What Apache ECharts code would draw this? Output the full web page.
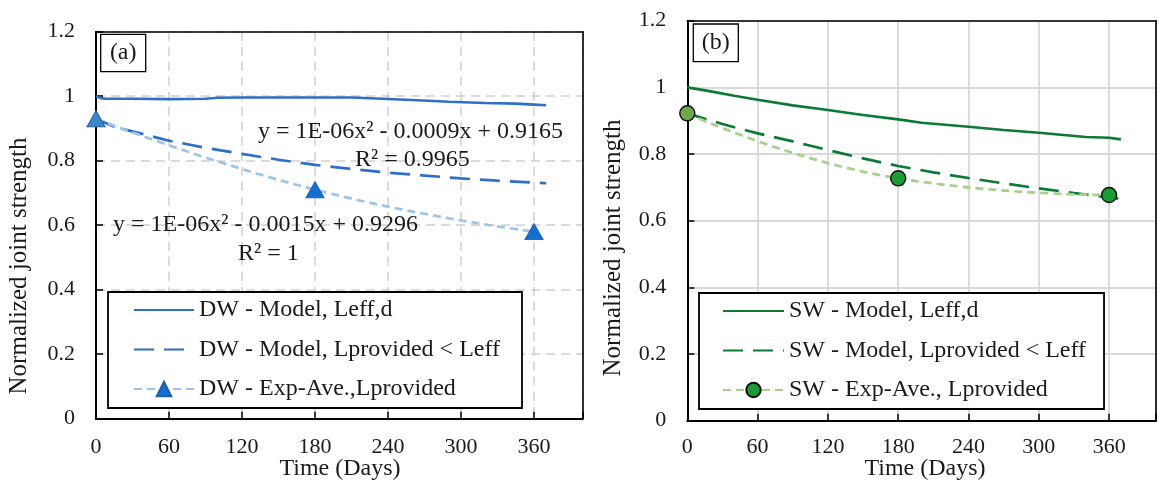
<!DOCTYPE html>
<html><head><meta charset="utf-8">
<script src="https://cdn.jsdelivr.net/npm/echarts@6/dist/echarts.min.js"></script>
<style>html,body{margin:0;padding:0;background:#fff}#c{width:1159px;height:482px}</style>
</head><body><div id="c"></div>
<script>
// ---------- data ----------
const dwLeffDays = [0, 4, 8, 30, 60, 90, 100, 120, 150, 180, 210, 230, 260, 290, 320, 345, 360, 370];
const dwLeffVals = [1.000, 0.994, 0.992, 0.992, 0.991, 0.992, 0.995, 0.996, 0.996, 0.996, 0.996, 0.993, 0.988, 0.983, 0.979, 0.977, 0.974, 0.972];
const dwProvDays = [0, 15, 30, 60, 90, 120, 150, 180, 210, 240, 270, 300, 330, 370];
const dwProvVals = [0.930, 0.905, 0.891, 0.862, 0.840, 0.821, 0.803, 0.787, 0.774, 0.763, 0.754, 0.745, 0.738, 0.730];
const expDays = [0, 180, 360];
const dwExpVals = [0.93, 0.71, 0.58];
const swLeffDays = [0, 20, 40, 60, 90, 120, 150, 180, 200, 240, 270, 300, 340, 360, 370];
const swLeffVals = [1.000, 0.988, 0.975, 0.963, 0.946, 0.932, 0.917, 0.904, 0.894, 0.882, 0.872, 0.864, 0.851, 0.849, 0.844];
const swProvDays = [0, 30, 60, 90, 120, 150, 180, 210, 240, 270, 300, 330, 370];
const swProvVals = [0.922, 0.890, 0.862, 0.838, 0.812, 0.787, 0.764, 0.745, 0.728, 0.712, 0.697, 0.683, 0.665];
const swExpVals = [0.922, 0.727, 0.677];
const xTickLabels = ['0', '60', '120', '180', '240', '300', '360'];
const dwNames = ['DW - Model, Leff,d', 'DW - Model, Lprovided < Leff', 'DW - Exp-Ave.,Lprovided'];
const swNames = ['SW - Model, Leff,d', 'SW - Model, Lprovided < Leff', 'SW - Exp-Ave., Lprovided'];
const eqTexts = ['y = 1E-06x² - 0.0009x + 0.9165', 'R² = 0.9965', 'y = 1E-06x² - 0.0015x + 0.9296', 'R² = 1'];

// ---------- helpers ----------
const zip = (xs, ys) => xs.map((x, i) => [x, ys[i]]);
const FF = '"Liberation Serif", "Times New Roman", serif';
const TXT = '#1a1a1a';
const C = {
  blue: '#2F6FC7', lightBlue: '#9DC3E6', tri: '#1470D0', tri0: '#3C88C8',
  green: '#0B7A35', lightGreen: '#A8D08D', dot: '#1B9A35', dot0: '#6EA84A'
};

function xAxis(gi, dashed, margin) {
  return {
    type: 'value', gridIndex: gi, min: 0, max: 400, interval: 60,
    axisLine: { show: true, onZero: false, lineStyle: { color: '#000', width: 2 } },
    axisTick: { show: true, inside: true, length: 7, lineStyle: { color: '#000', width: 1.5 } },
    axisLabel: { margin: margin, fontFamily: FF, fontSize: 22, color: TXT,
      formatter: v => xTickLabels.includes(String(v)) ? String(v) : '' },
    splitLine: { show: true, lineStyle: dashed ? { color: '#d0d0d0', width: 1.5, type: [9, 6] } : { color: '#d9d9d9', width: 1.8 } }
  };
}
function yAxis(gi, dashed) {
  return {
    type: 'value', gridIndex: gi, min: 0, max: 1.2, interval: 0.2,
    axisLine: { show: true, onZero: false, lineStyle: { color: '#000', width: 2 } },
    axisTick: { show: true, inside: true, length: 7, lineStyle: { color: '#000', width: 1.5 } },
    axisLabel: { margin: 21, fontFamily: FF, fontSize: 22, color: TXT },
    splitLine: { show: true, lineStyle: dashed ? { color: '#d0d0d0', width: 1.5, type: [9, 6] } : { color: '#d9d9d9', width: 1.8 } }
  };
}
// frame-only axes (top / right border of each plot)
function frameAxis(gi, pos, min, max) {
  return {
    type: 'value', gridIndex: gi, position: pos, min: min, max: max,
    axisLine: { show: true, onZero: false, lineStyle: { color: '#000', width: 1.6 } },
    axisTick: { show: false }, axisLabel: { show: false }, splitLine: { show: false }
  };
}
const hideSym = { opacity: 0, borderWidth: 0 };
function legend(names, left, top, pad, iw) {
  return {
    orient: 'vertical', left: left, top: top, padding: pad,
    itemWidth: iw, itemHeight: 18, itemGap: 15.5, selectedMode: false,
    borderColor: '#000', borderWidth: 1.8, backgroundColor: '#fff',
    textStyle: { fontFamily: FF, fontSize: 24, color: TXT, lineHeight: 24 },
    data: [
      { name: names[0], itemStyle: hideSym },
      { name: names[1], itemStyle: hideSym },
      { name: names[2] }
    ]
  };
}
function textEl(x, y, text, size, align, rot) {
  return { type: 'text', x: x, y: y, rotation: rot || 0, z: 100,
    style: { text: text, font: size + 'px ' + FF, fill: TXT, align: align || 'center', verticalAlign: 'middle' } };
}

const chart = echarts.init(document.getElementById('c'), null, { renderer: 'canvas' });
chart.setOption({
  animation: false,
  backgroundColor: '#fff',
  grid: [
    { left: 96, top: 31.7, width: 486.7, height: 387 },
    { left: 687.3, top: 20.7, width: 471, height: 400 }
  ],
  xAxis: [xAxis(0, true, 18), xAxis(1, false, 16), frameAxis(0, 'top', 0, 400), frameAxis(1, 'top', 0, 400)],
  yAxis: [yAxis(0, true), yAxis(1, false), frameAxis(0, 'right', 0, 1.2), frameAxis(1, 'right', 0, 1.2)],
  legend: [
    legend(dwNames, 108, 292, [6, 22, 7, 25], 60),
    legend(swNames, 699, 293, [6, 18, 7, 23], 61)
  ],
  series: [
    { name: dwNames[0], type: 'line', xAxisIndex: 0, yAxisIndex: 0, symbol: 'none', z: 3,
      lineStyle: { color: C.blue, width: 2.6 }, itemStyle: { color: C.blue },
      data: zip(dwLeffDays, dwLeffVals) },
    { name: dwNames[1], type: 'line', xAxisIndex: 0, yAxisIndex: 0, symbol: 'none', z: 3,
      lineStyle: { color: C.blue, width: 2.7, type: [20, 10] }, itemStyle: { color: C.blue },
      data: zip(dwProvDays, dwProvVals) },
    { name: dwNames[2], type: 'line', xAxisIndex: 0, yAxisIndex: 0, smooth: true, z: 4,
      symbol: 'triangle', symbolSize: [18, 16], showAllSymbol: true,
      lineStyle: { color: C.lightBlue, width: 2.7, type: [8, 5] },
      itemStyle: { color: C.tri, borderColor: '#1F5FA8', borderWidth: 1 },
      data: expDays.map((d, i) => i === 0 ? { value: [d, dwExpVals[i]], itemStyle: { color: C.tri0 } } : [d, dwExpVals[i]]) },

    { name: swNames[0], type: 'line', xAxisIndex: 1, yAxisIndex: 1, symbol: 'none', z: 3,
      lineStyle: { color: C.green, width: 2.6 }, itemStyle: { color: C.green },
      data: zip(swLeffDays, swLeffVals) },
    { name: swNames[1], type: 'line', xAxisIndex: 1, yAxisIndex: 1, symbol: 'none', z: 3,
      lineStyle: { color: C.green, width: 2.7, type: [20, 10] }, itemStyle: { color: C.green },
      data: zip(swProvDays, swProvVals) },
    { name: swNames[2], type: 'line', xAxisIndex: 1, yAxisIndex: 1, smooth: true, z: 4,
      symbol: 'circle', symbolSize: 15, showAllSymbol: true,
      lineStyle: { color: C.lightGreen, width: 2.7, type: [8, 5] },
      itemStyle: { color: C.dot, borderColor: '#111', borderWidth: 1.5 },
      data: expDays.map((d, i) => i === 0 ? { value: [d, swExpVals[i]], itemStyle: { color: C.dot0 } } : [d, swExpVals[i]]) }
  ],
  graphic: [
    textEl(19, 266, 'Normalized joint strength', 25, 'center', Math.PI / 2),
    textEl(613, 248, 'Normalized joint strength', 25, 'center', Math.PI / 2),
    textEl(340, 469, 'Time (Days)', 24),
    textEl(925, 469, 'Time (Days)', 24),
    { type: 'rect', z: 100, shape: { x: 100.7, y: 34.3, width: 45, height: 37.4 }, style: { fill: '#fff', stroke: '#000', lineWidth: 1.3 } },
    textEl(123.2, 53, '(a)', 24),
    { type: 'rect', z: 100, shape: { x: 693.3, y: 24, width: 45, height: 37.7 }, style: { fill: '#fff', stroke: '#000', lineWidth: 1.3 } },
    textEl(715.8, 42.8, '(b)', 24),
    textEl(258, 131.7, eqTexts[0], 24, 'left'),
    textEl(355, 159.3, eqTexts[1], 24, 'left'),
    textEl(113, 225, eqTexts[2], 24, 'left'),
    textEl(238, 253.3, eqTexts[3], 24, 'left')
  ]
});
</script></body></html>
